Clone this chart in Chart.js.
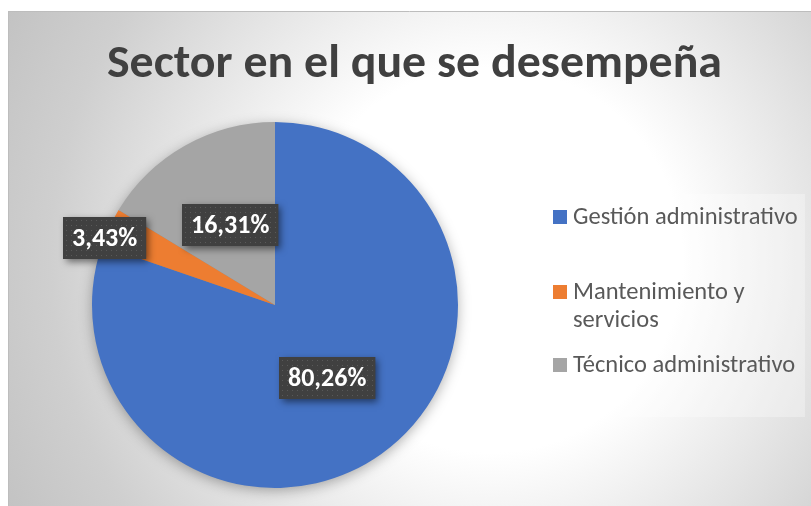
<!DOCTYPE html>
<html><head><meta charset="utf-8">
<script src="https://cdn.jsdelivr.net/npm/chart.js@4/dist/chart.umd.min.js"></script>
<style>html,body{margin:0;padding:0;background:#fff}#wrap{position:relative;width:811px;height:506px}</style>
</head><body><div id="wrap"><canvas id="c" width="811" height="506"></canvas></div>
<script>
const TITLE = 'Sector en el que se desempeña';
const categories = ['Gestión administrativo', 'Mantenimiento y servicios', 'Técnico administrativo'];
const values = [80.26, 3.43, 16.31];
const colors = ['#4472C4', '#ED7D31', '#A5A5A5'];
const FONT = 'Carlito, Lato, "Open Sans", sans-serif';

function fmt(v) { return v.toFixed(2).replace('.', ',') + '%'; }

const bgPlugin = {
  id: 'bg',
  beforeDraw(chart) {
    const ctx = chart.ctx;
    ctx.save();
    ctx.fillStyle = '#ffffff';
    ctx.fillRect(0, 0, chart.width, chart.height);
    const x0 = 8, y0 = 11, x1 = chart.width, y1 = chart.height;
    const g = ctx.createRadialGradient(490, 260, 0, 490, 260, 550);
    g.addColorStop(0, '#ffffff');
    g.addColorStop(0.35, '#ffffff');
    g.addColorStop(0.8, '#cfcfcf');
    g.addColorStop(1, '#c2c2c2');
    ctx.fillStyle = g;
    ctx.fillRect(x0, y0, x1 - x0, y1 - y0);
    ctx.strokeStyle = '#bdbdbd';
    ctx.lineWidth = 1;
    ctx.beginPath();
    ctx.moveTo(x0, y0 + 0.5); ctx.lineTo(x1, y0 + 0.5);
    ctx.moveTo(x0 + 0.5, y0); ctx.lineTo(x0 + 0.5, y1);
    ctx.stroke();
    ctx.restore();
  }
};

const pieShadow = {
  id: 'pieShadow',
  beforeDatasetsDraw(chart) {
    const arc = chart.getDatasetMeta(0).data[0];
    if (!arc) return;
    const ctx = chart.ctx;
    ctx.save();
    ctx.shadowColor = 'rgba(0,0,0,0.35)';
    ctx.shadowBlur = 14;
    ctx.shadowOffsetX = 0;
    ctx.shadowOffsetY = 3;
    ctx.fillStyle = '#888';
    ctx.beginPath();
    ctx.arc(arc.x, arc.y, arc.outerRadius - 1, 0, Math.PI * 2);
    ctx.fill();
    ctx.restore();
  }
};

const boxLabels = {
  id: 'boxLabels',
  afterDatasetsDraw(chart, args, opts) {
    const ctx = chart.ctx;
    const meta = chart.getDatasetMeta(0);
    const ds = chart.data.datasets[0];
    ctx.save();
    ctx.font = 'bold ' + opts.size + 'px ' + FONT;
    meta.data.forEach((arc, i) => {
      const mid = (arc.startAngle + arc.endAngle) / 2;
      const f = opts.radial[i];
      const n = opts.nudge[i];
      const cx = arc.x + Math.cos(mid) * arc.outerRadius * f + n[0];
      const cy = arc.y + Math.sin(mid) * arc.outerRadius * f + n[1];
      const txt = fmt(ds.data[i]);
      const tw = ctx.measureText(txt).width;
      const w = tw + 2 * opts.padX, h = opts.h;
      const bx = Math.round(cx - w / 2), by = Math.round(cy - h / 2);
      ctx.save();
      ctx.shadowColor = 'rgba(0,0,0,0.5)';
      ctx.shadowBlur = 7;
      ctx.shadowOffsetX = 3;
      ctx.shadowOffsetY = 3;
      ctx.fillStyle = '#404040';
      ctx.fillRect(bx, by, w, h);
      ctx.restore();
      ctx.fillStyle = 'rgba(110,110,110,0.55)';
      for (let yy = by + 3; yy < by + h - 1; yy += 5) {
        for (let xx = bx + 3; xx < bx + w - 1; xx += 5) {
          ctx.fillRect(xx, yy, 1, 1);
        }
      }
      ctx.fillStyle = '#ffffff';
      ctx.textAlign = 'center';
      ctx.textBaseline = 'middle';
      ctx.fillText(txt, bx + w / 2, by + h / 2 + 1);
    });
    ctx.restore();
  }
};

const sideLegend = {
  id: 'sideLegend',
  afterDraw(chart, args, opts) {
    const ctx = chart.ctx;
    ctx.save();
    ctx.fillStyle = 'rgba(255,255,255,0.3)';
    ctx.fillRect(opts.box[0], opts.box[1], opts.box[2], opts.box[3]);
    ctx.font = opts.size + 'px ' + FONT;
    ctx.textBaseline = 'alphabetic';
    ctx.textAlign = 'left';
    const cols = chart.data.datasets[0].backgroundColor;
    chart.data.labels.forEach((lab, i) => {
      const base = opts.baselines[i];
      ctx.fillStyle = cols[i];
      ctx.fillRect(opts.markerX, base - 14, 14, 14);
      const words = lab.split(' ');
      const lines = [];
      let cur = '';
      words.forEach(wd => {
        const t = cur ? cur + ' ' + wd : wd;
        if (ctx.measureText(t).width > opts.maxW && cur) { lines.push(cur); cur = wd; }
        else cur = t;
      });
      lines.push(cur);
      ctx.fillStyle = '#595959';
      lines.forEach((ln, k) => ctx.fillText(ln, opts.textX, base + k * opts.lineH));
    });
    ctx.restore();
  }
};

const titlePlugin = {
  id: 'customTitle',
  afterDraw(chart, args, opts) {
    const ctx = chart.ctx;
    ctx.save();
    ctx.font = 'bold ' + opts.size + 'px ' + FONT;
    ctx.fillStyle = '#404040';
    ctx.textAlign = 'center';
    ctx.textBaseline = 'alphabetic';
    const w = ctx.measureText(opts.text).width;
    const sx = opts.width / w;
    ctx.translate(opts.cx, opts.baseline);
    ctx.scale(sx, 1);
    ctx.fillText(opts.text, 0, 0);
    ctx.restore();
  }
};

new Chart(document.getElementById('c'), {
  type: 'pie',
  data: {
    labels: categories,
    datasets: [{ data: values, backgroundColor: colors, borderWidth: 0 }]
  },
  options: {
    responsive: false,
    animation: false,
    layout: { padding: { top: 122, bottom: 18, left: 92, right: 353 } },
    plugins: {
      legend: { display: false },
      tooltip: { enabled: false },
      title: { display: false },
      boxLabels: { size: 26, padX: 9, h: 42, radial: [0.49, 1.0, 0.5], nudge: [[0, 0], [-5, 11], [0, 0]] },
      sideLegend: { box: [540, 194, 265, 223], size: 24.5, markerX: 553, textX: 573, maxW: 232, lineH: 28, baselines: [224, 299, 372] },
      customTitle: { text: TITLE, size: 47, cx: 414.5, baseline: 77, width: 615 }
    }
  },
  plugins: [bgPlugin, pieShadow, boxLabels, sideLegend, titlePlugin]
});
</script>
</body></html>
